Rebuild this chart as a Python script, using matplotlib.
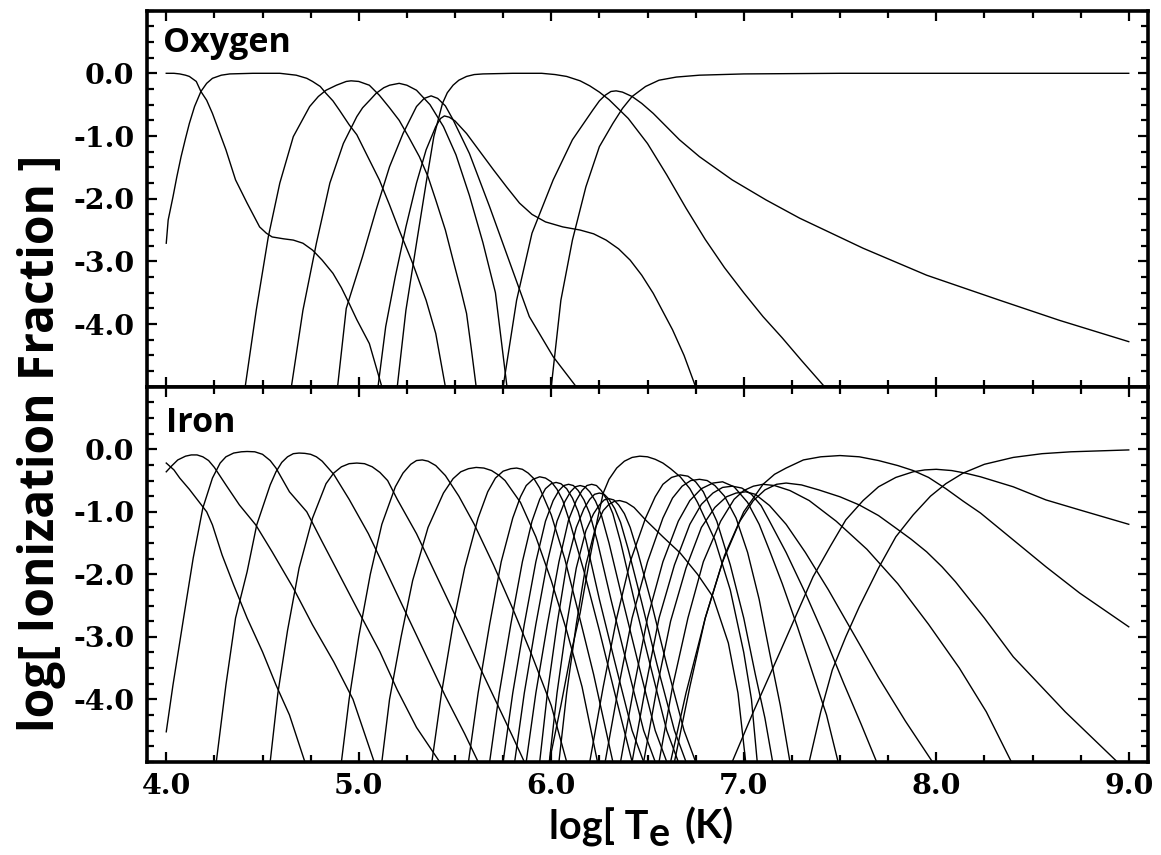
import matplotlib
matplotlib.use("Agg")
import matplotlib.pyplot as plt
from matplotlib.ticker import MultipleLocator, FixedLocator

# ---------------- Oxygen ion fractions (log10) ----------------
o1_x = [4.00, 4.04, 4.07, 4.10, 4.12, 4.156, 4.18, 4.21, 4.24, 4.31, 4.36, 4.42, 4.485, 4.52, 4.55, 4.61, 4.66, 4.71, 4.76, 4.81, 4.866, 4.91, 4.95, 4.99, 5.055, 5.12]
o1_y = [0.0, 0.0, -0.01, -0.03, -0.05, -0.13, -0.29, -0.43, -0.64, -1.22, -1.70, -2.07, -2.45, -2.55, -2.61, -2.64, -2.66, -2.71, -2.82, -2.98, -3.19, -3.42, -3.67, -3.93, -4.31, -5.0]
o2_x = [4.00, 4.01, 4.035, 4.055, 4.077, 4.10, 4.12, 4.147, 4.18, 4.21, 4.24, 4.286, 4.33, 4.45, 4.59, 4.675, 4.73, 4.76, 4.80, 4.83, 4.866, 4.90, 4.95, 4.99, 5.05, 5.107, 5.16, 5.21, 5.28, 5.35, 5.40, 5.45]
o2_y = [-2.71, -2.34, -1.97, -1.65, -1.33, -1.04, -0.80, -0.53, -0.29, -0.16, -0.08, -0.03, -0.01, 0.0, 0.0, -0.03, -0.08, -0.13, -0.21, -0.32, -0.44, -0.59, -0.82, -0.98, -1.35, -1.70, -2.10, -2.50, -3.03, -3.62, -4.15, -5.0]
o3_x = [4.41, 4.468, 4.53, 4.59, 4.66, 4.745, 4.79, 4.83, 4.884, 4.935, 4.96, 5.00, 5.055, 5.107, 5.16, 5.21, 5.26, 5.315, 5.36, 5.40, 5.45, 5.49, 5.53, 5.56, 5.585, 5.61]
o3_y = [-5.0, -3.77, -2.61, -1.75, -1.01, -0.53, -0.37, -0.27, -0.19, -0.13, -0.12, -0.13, -0.19, -0.35, -0.55, -0.75, -1.02, -1.33, -1.65, -2.02, -2.50, -2.98, -3.45, -3.83, -4.40, -5.0]
o4_x = [4.65, 4.71, 4.78, 4.85, 4.92, 4.99, 5.02, 5.06, 5.09, 5.13, 5.16, 5.21, 5.25, 5.30, 5.37, 5.44, 5.505, 5.575, 5.645, 5.71, 5.77]
o4_y = [-5.0, -3.78, -2.71, -1.75, -1.12, -0.69, -0.55, -0.42, -0.32, -0.23, -0.19, -0.16, -0.19, -0.27, -0.50, -0.85, -1.30, -1.95, -2.70, -3.50, -5.0]
o5_x = [4.89, 4.935, 5.02, 5.09, 5.16, 5.23, 5.30, 5.34, 5.376, 5.41, 5.45, 5.49, 5.575, 5.68, 5.78, 5.886, 6.01, 6.13]
o5_y = [-5.0, -3.75, -2.92, -2.18, -1.49, -0.96, -0.53, -0.40, -0.36, -0.40, -0.52, -0.74, -1.28, -2.13, -2.98, -3.88, -4.52, -5.0]
o6_x = [5.10, 5.14, 5.19, 5.245, 5.30, 5.35, 5.40, 5.425, 5.445, 5.47, 5.50, 5.56, 5.63, 5.70, 5.77, 5.835, 5.90, 5.97, 6.06, 6.15, 6.22, 6.285, 6.35, 6.41, 6.47, 6.53, 6.58, 6.63, 6.69, 6.75]
o6_y = [-5.0, -4.04, -3.24, -2.45, -1.75, -1.22, -0.85, -0.72, -0.68, -0.70, -0.76, -0.96, -1.25, -1.54, -1.82, -2.07, -2.25, -2.37, -2.45, -2.50, -2.56, -2.66, -2.80, -2.98, -3.22, -3.51, -3.80, -4.09, -4.50, -5.0]
o7_x = [5.20, 5.245, 5.30, 5.35, 5.39, 5.435, 5.46, 5.49, 5.52, 5.56, 5.60, 5.645, 5.80, 5.95, 6.02, 6.08, 6.15, 6.20, 6.25, 6.30, 6.40, 6.50, 6.60, 6.70, 6.80, 6.90, 7.00, 7.10, 7.20, 7.30, 7.42]
o7_y = [-5.0, -3.78, -2.71, -1.75, -1.01, -0.48, -0.31, -0.19, -0.11, -0.05, -0.02, -0.01, 0.0, 0.0, -0.02, -0.05, -0.12, -0.20, -0.30, -0.42, -0.72, -1.12, -1.62, -2.15, -2.65, -3.10, -3.50, -3.88, -4.22, -4.58, -5.0]
o8_x = [5.75, 5.82, 5.90, 6.01, 6.11, 6.215, 6.25, 6.28, 6.31, 6.337, 6.37, 6.42, 6.47, 6.53, 6.666, 6.77, 6.94, 7.116, 7.29, 7.62, 7.95, 8.33, 8.64, 9.0]
o8_y = [-5.0, -3.62, -2.55, -1.70, -1.06, -0.59, -0.44, -0.35, -0.29, -0.28, -0.30, -0.37, -0.48, -0.64, -1.06, -1.33, -1.70, -2.02, -2.31, -2.79, -3.22, -3.62, -3.94, -4.28]
o9_x = [6.0, 6.05, 6.11, 6.18, 6.25, 6.32, 6.37, 6.42, 6.49, 6.56, 6.65, 6.77, 7.0, 7.5, 9.0]
o9_y = [-5.0, -3.62, -2.66, -1.81, -1.17, -0.80, -0.56, -0.37, -0.21, -0.11, -0.06, -0.03, -0.01, 0.0, 0.0]

oxygen = [(o1_x, o1_y), (o2_x, o2_y), (o3_x, o3_y), (o4_x, o4_y), (o5_x, o5_y),
          (o6_x, o6_y), (o7_x, o7_y), (o8_x, o8_y), (o9_x, o9_y)]

# ---------------- Iron ion fractions (log10) ----------------
fe01_x = [4.00, 4.04, 4.07, 4.12, 4.17, 4.21, 4.24, 4.29, 4.35, 4.42, 4.50, 4.57, 4.64, 4.72]
fe01_y = [-0.22, -0.33, -0.46, -0.64, -0.84, -1.00, -1.21, -1.69, -2.17, -2.70, -3.24, -3.77, -4.25, -5.0]
fe02_x = [4.00, 4.03, 4.06, 4.10, 4.13, 4.16, 4.19, 4.22, 4.25, 4.31, 4.38, 4.465, 4.55, 4.66, 4.76, 4.87, 4.97, 5.08]
fe02_y = [-0.36, -0.26, -0.17, -0.11, -0.09, -0.09, -0.12, -0.18, -0.29, -0.57, -0.89, -1.21, -1.64, -2.22, -2.81, -3.40, -4.00, -5.0]
fe03_x = [4.00, 4.035, 4.09, 4.14, 4.19, 4.24, 4.28, 4.31, 4.35, 4.39, 4.42, 4.46, 4.50, 4.54, 4.57, 4.64, 4.73, 4.81, 4.90, 5.00, 5.11, 5.20, 5.30, 5.42]
fe03_y = [-4.52, -3.77, -2.70, -1.74, -0.94, -0.46, -0.22, -0.12, -0.06, -0.04, -0.035, -0.04, -0.08, -0.18, -0.30, -0.68, -1.00, -1.48, -2.01, -2.60, -3.24, -3.85, -4.45, -5.0]
fe04_x = [4.26, 4.31, 4.36, 4.42, 4.47, 4.54, 4.57, 4.60, 4.63, 4.66, 4.69, 4.72, 4.75, 4.78, 4.81, 4.87, 4.95, 5.05, 5.15, 5.25, 5.35, 5.45, 5.55, 5.62]
fe04_y = [-5.0, -3.77, -2.70, -1.96, -1.21, -0.57, -0.36, -0.21, -0.12, -0.07, -0.06, -0.065, -0.08, -0.12, -0.19, -0.40, -0.80, -1.35, -2.00, -2.65, -3.30, -3.95, -4.55, -5.0]
fe05_x = [4.54, 4.58, 4.63, 4.69, 4.76, 4.83, 4.87, 4.91, 4.95, 4.99, 5.03, 5.07, 5.11, 5.15, 5.20, 5.30, 5.40, 5.50, 5.60, 5.70, 5.80, 5.86]
fe05_y = [-5.0, -3.90, -2.90, -1.90, -1.10, -0.55, -0.38, -0.28, -0.23, -0.22, -0.23, -0.28, -0.37, -0.50, -0.80, -1.35, -2.00, -2.65, -3.30, -3.95, -4.60, -5.0]
fe06_x = [4.91, 4.95, 5.00, 5.06, 5.12, 5.19, 5.23, 5.27, 5.30, 5.33, 5.36, 5.40, 5.45, 5.52, 5.60, 5.70, 5.80, 5.90, 6.00, 6.08]
fe06_y = [-5.0, -4.00, -3.00, -2.00, -1.20, -0.60, -0.38, -0.24, -0.18, -0.17, -0.19, -0.26, -0.42, -0.75, -1.20, -1.85, -2.55, -3.30, -4.10, -5.0]
fe07_x = [5.12, 5.16, 5.22, 5.28, 5.36, 5.44, 5.49, 5.53, 5.57, 5.61, 5.65, 5.69, 5.73, 5.76, 5.84, 5.92, 6.00, 6.08, 6.16, 6.24]
fe07_y = [-5.0, -4.00, -3.00, -2.10, -1.25, -0.70, -0.47, -0.36, -0.31, -0.29, -0.30, -0.34, -0.42, -0.50, -0.85, -1.40, -2.10, -2.90, -3.80, -5.0]
fe08_x = [5.38, 5.43, 5.49, 5.55, 5.62, 5.67, 5.71, 5.75, 5.79, 5.82, 5.85, 5.88, 5.91, 5.94, 6.00, 6.07, 6.14, 6.22, 6.32]
fe08_y = [-5.0, -3.90, -2.80, -1.90, -1.10, -0.68, -0.46, -0.35, -0.31, -0.30, -0.32, -0.38, -0.47, -0.62, -1.05, -1.75, -2.60, -3.60, -5.0]
fe09_x = [5.57, 5.62, 5.68, 5.74, 5.80, 5.84, 5.87, 5.905, 5.94, 5.97, 6.00, 6.03, 6.06, 6.10, 6.17, 6.25, 6.33, 6.42]
fe09_y = [-5.0, -3.90, -2.80, -1.80, -1.10, -0.76, -0.58, -0.48, -0.44, -0.46, -0.52, -0.64, -0.82, -1.20, -1.95, -2.90, -3.90, -5.0]
fe10_x = [5.68, 5.73, 5.79, 5.85, 5.90, 5.94, 5.97, 6.00, 6.025, 6.05, 6.08, 6.11, 6.14, 6.18, 6.25, 6.33, 6.42, 6.48]
fe10_y = [-5.0, -3.90, -2.80, -1.80, -1.15, -0.80, -0.63, -0.55, -0.53, -0.55, -0.63, -0.78, -1.00, -1.45, -2.40, -3.40, -4.50, -5.0]
fe11_x = [5.75, 5.80, 5.86, 5.92, 5.97, 6.01, 6.04, 6.065, 6.09, 6.115, 6.14, 6.17, 6.20, 6.24, 6.31, 6.39, 6.48, 6.54]
fe11_y = [-5.0, -3.90, -2.80, -1.80, -1.15, -0.82, -0.66, -0.58, -0.56, -0.58, -0.66, -0.81, -1.03, -1.48, -2.40, -3.40, -4.50, -5.0]
fe12_x = [5.81, 5.86, 5.92, 5.98, 6.03, 6.07, 6.10, 6.125, 6.15, 6.175, 6.20, 6.23, 6.26, 6.30, 6.37, 6.45, 6.54, 6.60]
fe12_y = [-5.0, -3.90, -2.80, -1.80, -1.15, -0.84, -0.68, -0.60, -0.58, -0.60, -0.68, -0.83, -1.05, -1.50, -2.40, -3.40, -4.50, -5.0]
fe13_x = [5.87, 5.92, 5.98, 6.04, 6.09, 6.13, 6.16, 6.185, 6.21, 6.235, 6.26, 6.29, 6.32, 6.36, 6.43, 6.51, 6.60, 6.66]
fe13_y = [-5.0, -3.90, -2.80, -1.80, -1.13, -0.82, -0.66, -0.58, -0.56, -0.58, -0.66, -0.81, -1.03, -1.48, -2.40, -3.40, -4.50, -5.0]
fe14_x = [5.94, 5.98, 6.03, 6.08, 6.13, 6.17, 6.20, 6.225, 6.25, 6.275, 6.30, 6.33, 6.36, 6.40, 6.47, 6.55, 6.64, 6.70]
fe14_y = [-5.0, -3.90, -2.80, -1.85, -1.25, -0.95, -0.80, -0.72, -0.70, -0.72, -0.80, -0.95, -1.17, -1.60, -2.45, -3.45, -4.50, -5.0]
fe15_x = [5.99, 6.03, 6.08, 6.13, 6.18, 6.22, 6.25, 6.275, 6.30, 6.325, 6.35, 6.38, 6.41, 6.45, 6.52, 6.60, 6.69, 6.75]
fe15_y = [-5.0, -3.90, -2.80, -1.90, -1.30, -1.03, -0.89, -0.81, -0.79, -0.81, -0.89, -1.03, -1.25, -1.65, -2.45, -3.45, -4.50, -5.0]
fe16_x = [6.04, 6.08, 6.13, 6.18, 6.23, 6.27, 6.30, 6.33, 6.355, 6.39, 6.43, 6.49, 6.58, 6.67, 6.76, 6.84, 6.92, 6.97, 7.01]
fe16_y = [-5.0, -3.90, -2.80, -1.85, -1.25, -0.98, -0.88, -0.83, -0.82, -0.85, -0.93, -1.13, -1.40, -1.66, -2.00, -2.36, -3.10, -3.90, -5.0]
fe17_x = [5.99, 6.05, 6.10, 6.15, 6.20, 6.24, 6.27, 6.30, 6.34, 6.38, 6.42, 6.46, 6.50, 6.54, 6.58, 6.62, 6.67, 6.72, 6.76, 6.85, 6.93, 7.00, 7.04, 7.07]
fe17_y = [-5.0, -4.10, -3.30, -2.62, -1.75, -1.12, -0.70, -0.48, -0.30, -0.19, -0.13, -0.11, -0.12, -0.16, -0.22, -0.31, -0.44, -0.63, -0.85, -1.45, -2.25, -3.25, -4.00, -5.0]
fe18_x = [6.20, 6.27, 6.34, 6.41, 6.49, 6.54, 6.58, 6.625, 6.67, 6.71, 6.75, 6.79, 6.86, 6.93, 7.00, 7.06, 7.11, 7.15]
fe18_y = [-5.0, -3.80, -2.70, -1.80, -1.10, -0.76, -0.56, -0.45, -0.41, -0.43, -0.52, -0.68, -1.15, -1.85, -2.70, -3.60, -4.30, -5.0]
fe19_x = [6.28, 6.35, 6.42, 6.50, 6.58, 6.63, 6.68, 6.725, 6.77, 6.81, 6.85, 6.90, 6.96, 7.02, 7.08, 7.134, 7.19, 7.24]
fe19_y = [-5.0, -3.80, -2.70, -1.80, -1.10, -0.78, -0.59, -0.50, -0.48, -0.50, -0.58, -0.75, -1.10, -1.65, -2.40, -3.25, -4.10, -5.0]
fe20_x = [6.36, 6.43, 6.50, 6.58, 6.66, 6.72, 6.78, 6.84, 6.89, 6.95, 7.02, 7.08, 7.134, 7.20, 7.28, 7.36, 7.43, 7.49]
fe20_y = [-5.0, -3.80, -2.70, -1.80, -1.15, -0.82, -0.63, -0.54, -0.52, -0.60, -0.85, -1.20, -1.62, -2.15, -2.85, -3.60, -4.25, -5.0]
fe21_x = [6.42, 6.49, 6.56, 6.64, 6.72, 6.78, 6.84, 6.89, 6.94, 6.99, 7.04, 7.09, 7.134, 7.22, 7.32, 7.42, 7.52, 7.61, 7.69]
fe21_y = [-5.0, -3.80, -2.70, -1.85, -1.20, -0.88, -0.70, -0.61, -0.59, -0.62, -0.72, -0.90, -1.15, -1.65, -2.30, -3.00, -3.75, -4.40, -5.0]
fe22_x = [6.48, 6.55, 6.62, 6.70, 6.78, 6.85, 6.91, 6.96, 7.01, 7.06, 7.134, 7.22, 7.32, 7.44, 7.57, 7.70, 7.84, 7.98]
fe22_y = [-5.0, -3.80, -2.75, -1.90, -1.25, -0.93, -0.76, -0.70, -0.68, -0.72, -0.90, -1.20, -1.65, -2.25, -2.95, -3.65, -4.35, -5.0]
fe23_x = [6.56, 6.63, 6.71, 6.79, 6.88, 6.95, 7.00, 7.05, 7.10, 7.16, 7.24, 7.34, 7.48, 7.64, 7.80, 7.96, 8.12, 8.26, 8.39]
fe23_y = [-5.0, -3.80, -2.70, -1.80, -1.15, -0.80, -0.66, -0.59, -0.56, -0.58, -0.66, -0.82, -1.15, -1.60, -2.15, -2.80, -3.50, -4.20, -5.0]
fe24_x = [6.64, 6.72, 6.80, 6.89, 6.98, 7.05, 7.11, 7.17, 7.22, 7.30, 7.39, 7.50, 7.60, 7.70, 7.79, 7.87, 7.95, 8.03, 8.10, 8.25, 8.40, 8.67, 8.94]
fe24_y = [-5.0, -3.80, -2.70, -1.80, -1.15, -0.82, -0.65, -0.56, -0.54, -0.57, -0.65, -0.76, -0.89, -1.06, -1.26, -1.44, -1.64, -1.88, -2.12, -2.70, -3.32, -4.20, -5.0]
fe25_x = [6.62, 6.70, 6.80, 6.90, 7.00, 7.10, 7.16, 7.22, 7.31, 7.40, 7.50, 7.60, 7.70, 7.80, 7.88, 7.96, 8.05, 8.14, 8.23, 8.40, 8.57, 8.745, 9.0]
fe25_y = [-5.0, -3.90, -2.70, -1.70, -1.00, -0.56, -0.40, -0.30, -0.17, -0.12, -0.10, -0.12, -0.18, -0.26, -0.34, -0.45, -0.63, -0.83, -1.02, -1.45, -1.88, -2.30, -2.84]
fe26_x = [6.94, 7.05, 7.186, 7.28, 7.36, 7.45, 7.53, 7.62, 7.70, 7.79, 7.88, 7.94, 8.00, 8.08, 8.15, 8.23, 8.40, 8.57, 8.745, 9.0]
fe26_y = [-5.0, -4.20, -3.26, -2.60, -2.04, -1.55, -1.13, -0.82, -0.60, -0.45, -0.36, -0.33, -0.32, -0.34, -0.38, -0.44, -0.60, -0.81, -0.97, -1.20]
fe27_x = [7.34, 7.40, 7.46, 7.53, 7.60, 7.70, 7.79, 7.88, 7.97, 8.05, 8.14, 8.25, 8.40, 8.55, 8.70, 9.0]
fe27_y = [-5.0, -4.20, -3.53, -3.00, -2.52, -1.90, -1.40, -1.05, -0.75, -0.55, -0.38, -0.24, -0.13, -0.07, -0.04, -0.01]

iron = [(fe01_x, fe01_y), (fe02_x, fe02_y), (fe03_x, fe03_y), (fe04_x, fe04_y),
        (fe05_x, fe05_y), (fe06_x, fe06_y), (fe07_x, fe07_y), (fe08_x, fe08_y),
        (fe09_x, fe09_y), (fe10_x, fe10_y), (fe11_x, fe11_y), (fe12_x, fe12_y),
        (fe13_x, fe13_y), (fe14_x, fe14_y), (fe15_x, fe15_y), (fe16_x, fe16_y),
        (fe17_x, fe17_y), (fe18_x, fe18_y), (fe19_x, fe19_y), (fe20_x, fe20_y),
        (fe21_x, fe21_y), (fe22_x, fe22_y), (fe23_x, fe23_y), (fe24_x, fe24_y),
        (fe25_x, fe25_y), (fe26_x, fe26_y), (fe27_x, fe27_y)]

y_ticks = [0.0, -1.0, -2.0, -3.0, -4.0]
y_ticklabels = ["0.0", "-1.0", "-2.0", "-3.0", "-4.0"]
x_ticks = [4.0, 5.0, 6.0, 7.0, 8.0, 9.0]
x_ticklabels = ["4.0", "5.0", "6.0", "7.0", "8.0", "9.0"]

W, H = 1161, 855
fig = plt.figure(figsize=(W / 100, H / 100), dpi=100)
left = 147 / W
right = 1148 / W
top_y, mid_y, bot_y = 10.6, 386.8, 761.8
ax1 = fig.add_axes([left, 1 - mid_y / H, right - left, (mid_y - top_y) / H])
ax2 = fig.add_axes([left, 1 - bot_y / H, right - left, (bot_y - mid_y) / H])

tick_font = dict(family='DejaVu Serif', weight='bold', size=20.5)

for ax, data in ((ax1, oxygen), (ax2, iron)):
    for xs, ys in data:
        ax.plot(xs, ys, color='black', lw=1.0, solid_joinstyle='round')
    ax.set_xlim(3.9, 9.1)
    ax.set_ylim(-5.0, 1.0)
    ax.xaxis.set_major_locator(FixedLocator(x_ticks))
    ax.xaxis.set_minor_locator(MultipleLocator(0.25))
    ax.yaxis.set_major_locator(FixedLocator(y_ticks))
    ax.yaxis.set_minor_locator(MultipleLocator(0.25))
    ax.tick_params(which='both', direction='in', top=True, right=True, width=1.6, colors='black')
    ax.tick_params(which='major', length=7.5)
    ax.tick_params(which='minor', length=5)
    for sp in ax.spines.values():
        sp.set_linewidth(2.6)
    ax.set_yticklabels(y_ticklabels, **tick_font)
    ax.tick_params(axis='y', pad=9)

ax1.set_xticklabels([])
ax2.set_xticklabels(x_ticklabels, **tick_font)
ax2.tick_params(axis='x', pad=8)

fig.text(163 / W, 1 - 51.7 / H, "Oxygen", fontsize=24.5, ha='left', va='baseline',
         family='Open Sans', weight='bold')
fig.text(166 / W, 1 - 431.7 / H, "Iron", fontsize=24.5, ha='left', va='baseline',
         family='Open Sans', weight='bold')
fig.text(42 / W, 1 - 443 / H, "log[ Ionization Fraction ]", fontsize=34.5, rotation=90,
         ha='center', va='center', family='Open Sans', weight='bold')

# x-axis title: "log[ T" + lowered "e" + " (K)"
xl_font = dict(family='Lato', weight='bold', fontsize=28.5)
fig.canvas.draw()
rend = fig.canvas.get_renderer()
parts = ["log[ T", "e", "(K)"]
drops = [0, 7, 0]
gaps = [1, 14]
tmp = [fig.text(0, 0, p, **xl_font) for p in parts]
widths = [t.get_window_extent(rend).width for t in tmp]
for t in tmp:
    t.remove()
total = sum(widths) + sum(gaps)
x0 = 641 - total / 2
base = 839
xpos = x0
for i, p in enumerate(parts):
    fig.text(xpos / W, 1 - (base + drops[i]) / H, p, ha='left', va='baseline', **xl_font)
    xpos += widths[i] + (gaps[i] if i < len(gaps) else 0)

fig.savefig("out.png", dpi=100)
